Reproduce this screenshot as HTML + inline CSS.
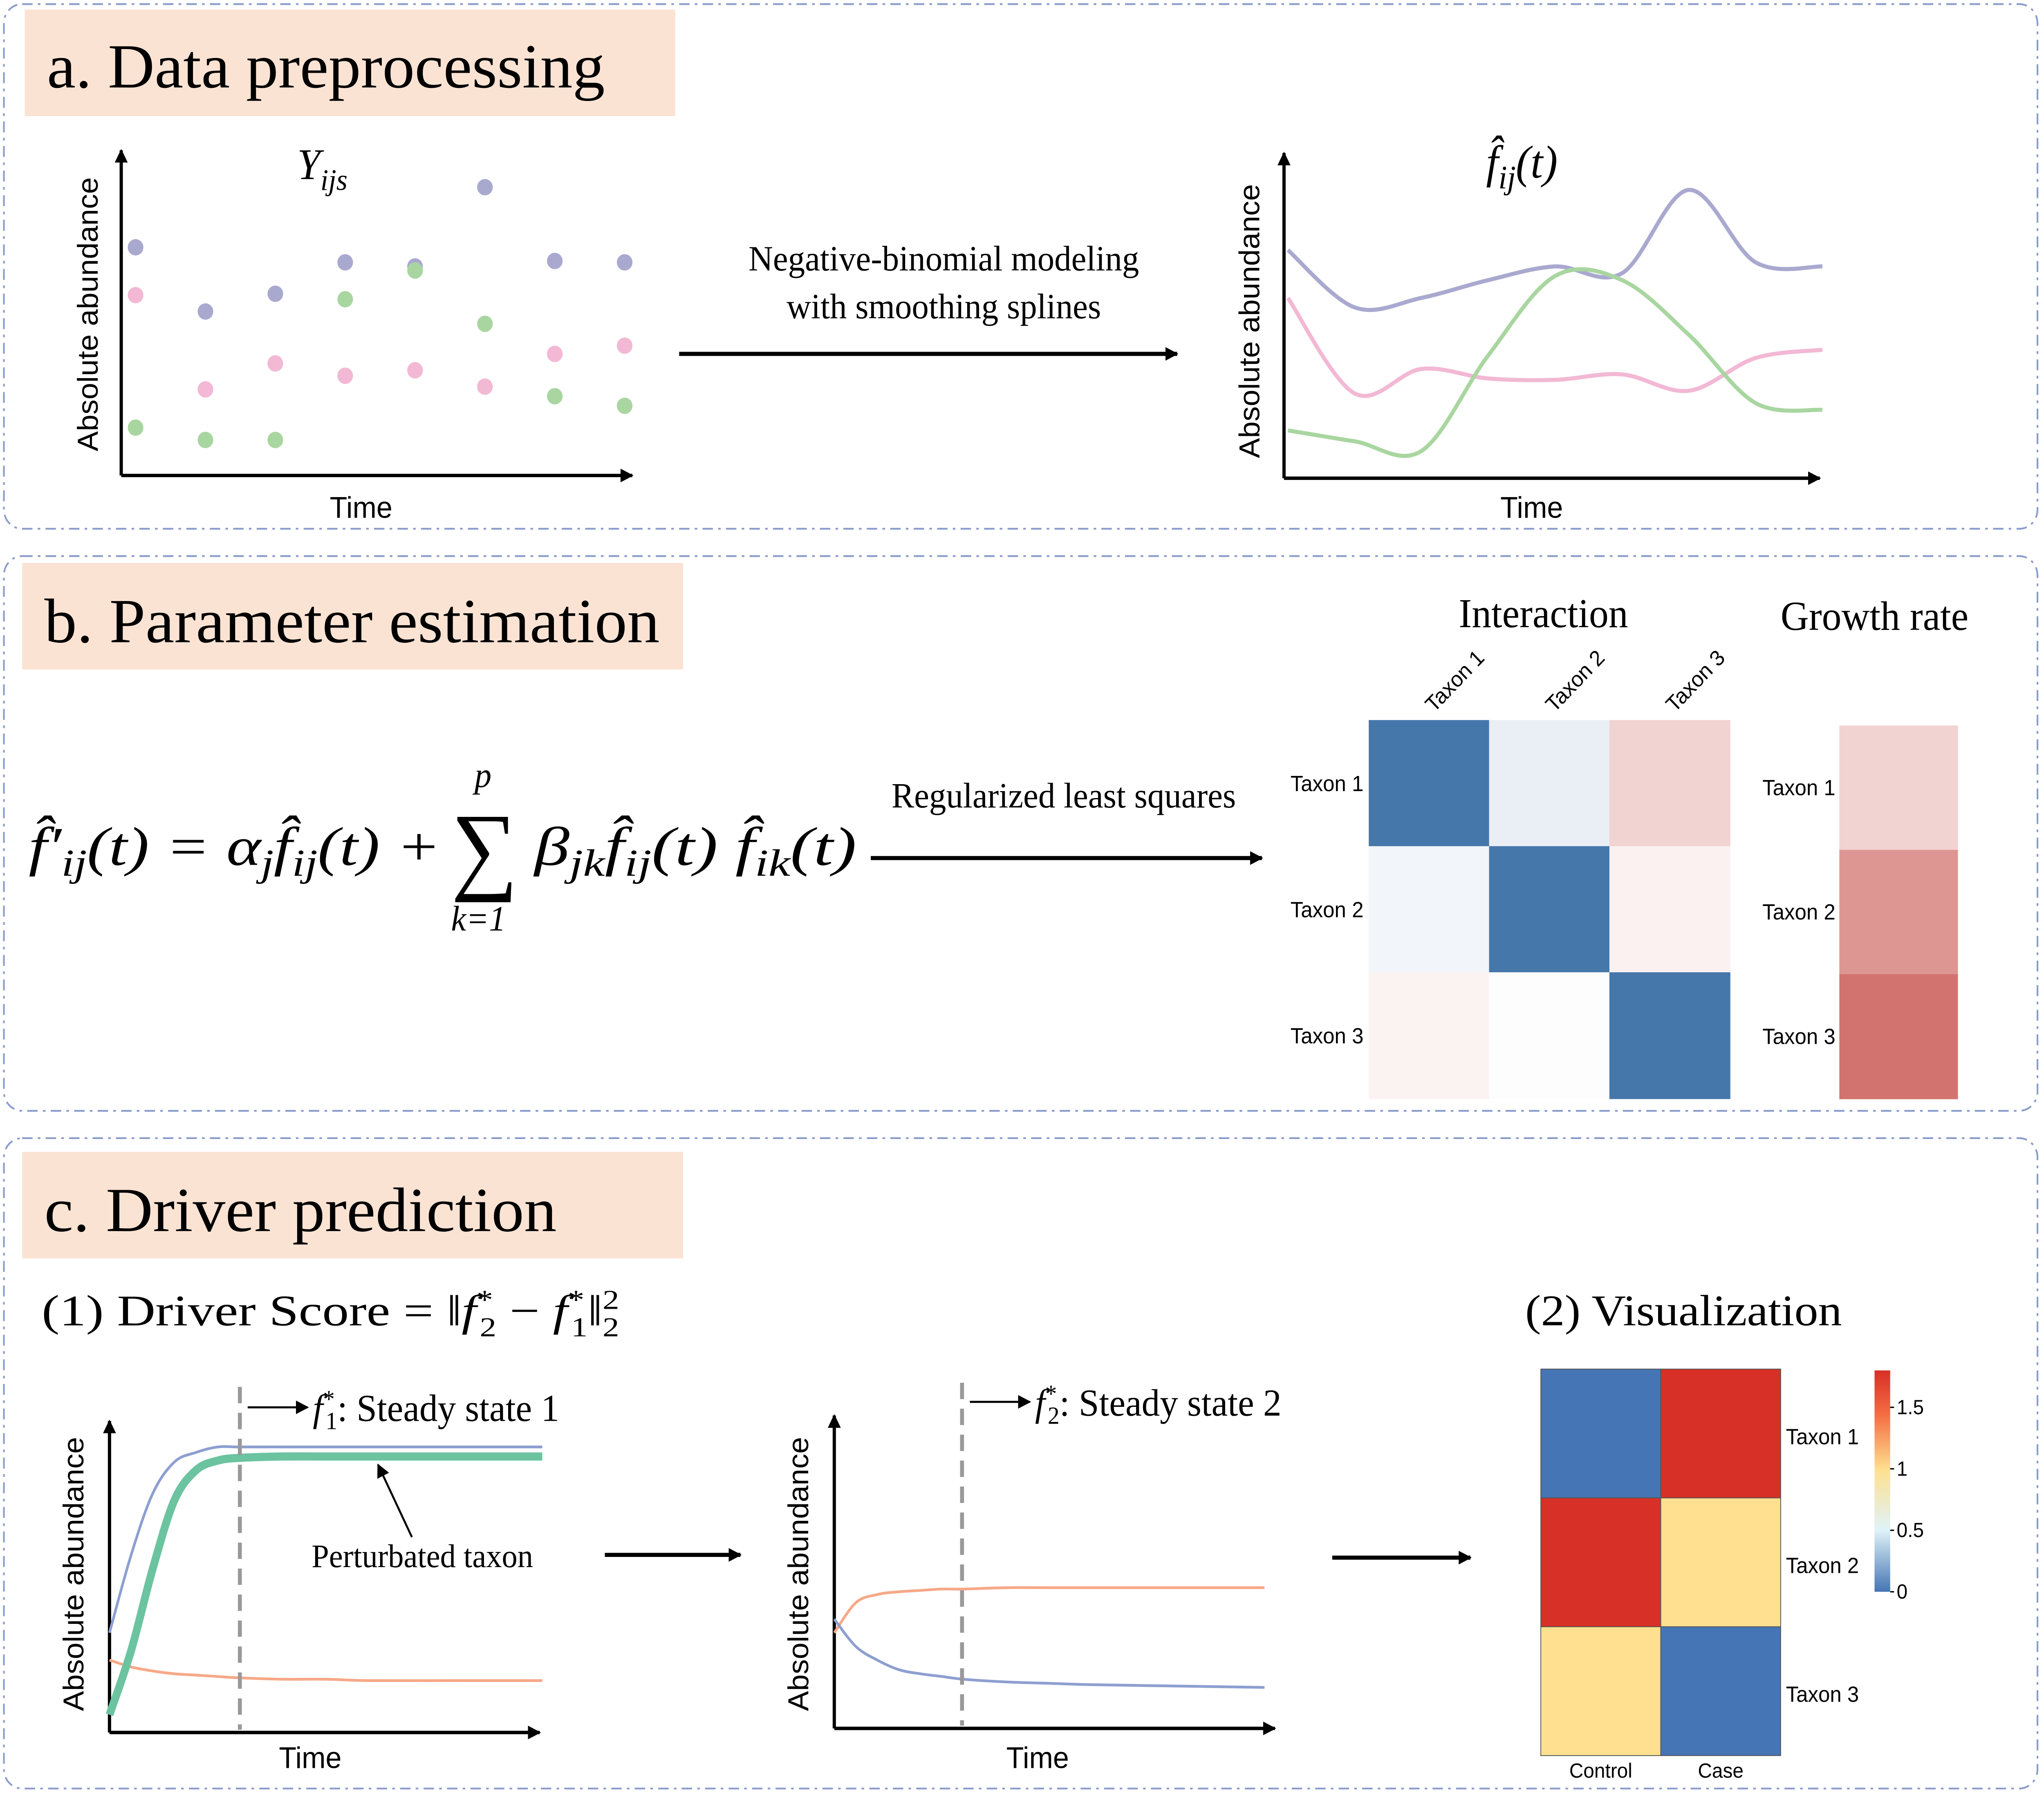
<!DOCTYPE html>
<html><head><meta charset="utf-8">
<style>
html,body{margin:0;padding:0;background:#fff;width:100%;height:100%;overflow:hidden;}
svg{display:block;}
.serif{font-family:"Liberation Serif",serif;}
.sans{font-family:"Liberation Sans",sans-serif;}
</style></head>
<body>
<svg id="fig" width="100%" height="100%" viewBox="0 0 1568 1313" preserveAspectRatio="none" xmlns="http://www.w3.org/2000/svg">
<defs>
<marker id="ah" markerWidth="10" markerHeight="10" refX="9" refY="5" orient="auto" markerUnits="userSpaceOnUse"><path d="M0,0 L10,5 L0,10 z" fill="#000"/></marker>
<linearGradient id="cb" x1="0" y1="1" x2="0" y2="0">
<stop offset="0" stop-color="#4575b4"/><stop offset="0.28" stop-color="#e0f3f8"/><stop offset="0.55" stop-color="#fee090"/><stop offset="0.8" stop-color="#f46d43"/><stop offset="1" stop-color="#d73027"/>
</linearGradient>
</defs>
<rect x="3" y="3" width="1560" height="384" rx="14" fill="none" stroke="#8a9ccc" stroke-width="1.3" stroke-dasharray="8,4,2,4"/>
<rect x="3" y="407" width="1560" height="406" rx="14" fill="none" stroke="#8a9ccc" stroke-width="1.3" stroke-dasharray="8,4,2,4"/>
<rect x="3" y="833" width="1560" height="476" rx="14" fill="none" stroke="#8a9ccc" stroke-width="1.3" stroke-dasharray="8,4,2,4"/>

<rect x="19" y="7" width="499" height="78" fill="#fbe3d3"/>
<text x="36" y="64" class="serif" font-size="46" textLength="428" lengthAdjust="spacingAndGlyphs">a. Data preprocessing</text>
<rect x="17" y="412" width="507" height="78" fill="#fbe3d3"/>
<text x="34" y="470" class="serif" font-size="46" textLength="472" lengthAdjust="spacingAndGlyphs">b. Parameter estimation</text>
<rect x="17" y="843" width="507" height="78" fill="#fbe3d3"/>
<text x="34" y="901" class="serif" font-size="46" textLength="393" lengthAdjust="spacingAndGlyphs">c. Driver prediction</text>

<g stroke="#000" stroke-width="2.5" fill="none">
<line x1="93" y1="348" x2="93" y2="110" marker-end="url(#ah)"/>
<line x1="93" y1="348" x2="485" y2="348" marker-end="url(#ah)"/>
</g>
<text x="277" y="379" class="sans" font-size="22" text-anchor="middle">Time</text>
<text transform="translate(75,230) rotate(-90)" class="sans" font-size="22" text-anchor="middle">Absolute abundance</text>
<text x="228" y="131" class="serif" font-size="32" font-style="italic">Y<tspan font-size="22" dy="8">ijs</tspan></text>
<g id="scatter"></g>

<text x="724" y="198" class="serif" font-size="26" text-anchor="middle">Negative-binomial modeling</text>
<text x="724" y="233" class="serif" font-size="26" text-anchor="middle">with smoothing splines</text>
<line x1="521" y1="259" x2="903" y2="259" stroke="#000" stroke-width="3" marker-end="url(#ah)"/>

<g stroke="#000" stroke-width="2.5" fill="none">
<line x1="985" y1="350" x2="985" y2="112" marker-end="url(#ah)"/>
<line x1="985" y1="350" x2="1396" y2="350" marker-end="url(#ah)"/>
</g>
<text x="1175" y="379" class="sans" font-size="22" text-anchor="middle">Time</text>
<text transform="translate(966,235) rotate(-90)" class="sans" font-size="22" text-anchor="middle">Absolute abundance</text>
<text x="1140" y="130" class="serif" font-size="34" font-style="italic">f̂<tspan font-size="24" dy="8">ij</tspan><tspan dy="-8">(t)</tspan></text>
<g id="splines"></g>

<text x="22" y="633" class="serif" font-size="40" font-style="italic" textLength="316" lengthAdjust="spacingAndGlyphs">f̂′<tspan font-size="28" dy="8">ij</tspan><tspan dy="-8">(t) = α</tspan><tspan font-size="28" dy="8">j</tspan><tspan dy="-8">f̂</tspan><tspan font-size="28" dy="8">ij</tspan><tspan dy="-8">(t) +</tspan></text>
<text x="346" y="645" class="serif" font-size="72">∑</text>
<text x="364" y="576" class="serif" font-size="26" font-style="italic">p</text>
<text x="346" y="681" class="serif" font-size="26" font-style="italic">k=1</text>
<text x="410" y="633" class="serif" font-size="40" font-style="italic" textLength="247" lengthAdjust="spacingAndGlyphs">β<tspan font-size="28" dy="8">jk</tspan><tspan dy="-8">f̂</tspan><tspan font-size="28" dy="8">ij</tspan><tspan dy="-8">(t) f̂</tspan><tspan font-size="28" dy="8">ik</tspan><tspan dy="-8">(t)</tspan></text>
<text x="816" y="591" class="serif" font-size="26" text-anchor="middle">Regularized least squares</text>
<line x1="668" y1="628" x2="968" y2="628" stroke="#000" stroke-width="3" marker-end="url(#ah)"/>

<text x="1184" y="459" class="serif" font-size="30" text-anchor="middle">Interaction</text>
<text x="1438" y="461" class="serif" font-size="30" text-anchor="middle">Growth rate</text>
<g id="inter"></g>
<g id="growth"></g>

<text x="32" y="970" class="serif" font-size="32" textLength="443" lengthAdjust="spacingAndGlyphs">(1) Driver Score = ‖<tspan font-style="italic">f</tspan><tspan font-size="20" dy="-12">*</tspan><tspan font-size="20" dx="-8" dy="20">2</tspan><tspan dy="-8"> − </tspan><tspan font-style="italic">f</tspan><tspan font-size="20" dy="-12">*</tspan><tspan font-size="20" dx="-8" dy="20">1</tspan><tspan dy="-8">‖</tspan><tspan font-size="20" dy="-12">2</tspan><tspan font-size="20" dx="-10" dy="20">2</tspan></text>
<text x="1170" y="970" class="serif" font-size="32" textLength="243" lengthAdjust="spacingAndGlyphs">(2)  Visualization</text>

<g stroke="#000" stroke-width="2.5" fill="none">
<line x1="84" y1="1268" x2="84" y2="1040" marker-end="url(#ah)"/>
<line x1="84" y1="1268" x2="414" y2="1268" marker-end="url(#ah)"/>
</g>
<text x="238" y="1294" class="sans" font-size="22" text-anchor="middle">Time</text>
<text transform="translate(64,1152) rotate(-90)" class="sans" font-size="22" text-anchor="middle">Absolute abundance</text>
<g id="c1"></g>
<line x1="184" y1="1015" x2="184" y2="1266" stroke="#999" stroke-width="3" stroke-dasharray="12,7"/>
<line x1="190" y1="1030" x2="236" y2="1030" stroke="#000" stroke-width="1.5" marker-end="url(#ah)"/>
<text x="240" y="1040" class="serif" font-size="28"><tspan font-style="italic">f</tspan><tspan font-size="18" dy="-10">*</tspan><tspan font-size="18" dx="-7" dy="16">1</tspan><tspan dy="-6">: Steady state 1</tspan></text>
<line x1="316" y1="1125" x2="290" y2="1072" stroke="#000" stroke-width="1.5" marker-end="url(#ah)"/>
<text x="324" y="1147" class="serif" font-size="24" text-anchor="middle">Perturbated taxon</text>
<line x1="464" y1="1138" x2="568" y2="1138" stroke="#000" stroke-width="3" marker-end="url(#ah)"/>

<g stroke="#000" stroke-width="2.5" fill="none">
<line x1="640" y1="1265" x2="640" y2="1036" marker-end="url(#ah)"/>
<line x1="640" y1="1265" x2="978" y2="1265" marker-end="url(#ah)"/>
</g>
<text x="796" y="1294" class="sans" font-size="22" text-anchor="middle">Time</text>
<text transform="translate(620,1152) rotate(-90)" class="sans" font-size="22" text-anchor="middle">Absolute abundance</text>
<g id="c2"></g>
<line x1="738" y1="1012" x2="738" y2="1263" stroke="#999" stroke-width="3" stroke-dasharray="12,7"/>
<line x1="744" y1="1026" x2="790" y2="1026" stroke="#000" stroke-width="1.5" marker-end="url(#ah)"/>
<text x="794" y="1036" class="serif" font-size="28"><tspan font-style="italic">f</tspan><tspan font-size="18" dy="-10">*</tspan><tspan font-size="18" dx="-7" dy="16">2</tspan><tspan dy="-6">: Steady state 2</tspan></text>
<line x1="1022" y1="1140" x2="1128" y2="1140" stroke="#000" stroke-width="3" marker-end="url(#ah)"/>

<g id="driver"></g>
<rect x="1438" y="1003" width="12" height="162" fill="url(#cb)"/>
<g id="cbt"></g>
</svg>
<script>
const NS='http://www.w3.org/2000/svg';
function mk(tag,attrs,parent,text){const e=document.createElementNS(NS,tag);for(const k in attrs)e.setAttribute(k,attrs[k]);if(text!==undefined)e.textContent=text;parent.appendChild(e);return e;}
const timePoints=[1,2,3,4,5,6,7,8];
const purpleObs=[167,120,133,156,153,211,157,156];
const pinkObs=[132,63,82,73,77,65,89,95];
const greenObs=[35,26,26,129,150,111,58,51];
const xS=t=>104+(t-1)*53.6, yS=v=>348-v;
const sc=document.getElementById('scatter');
[[purpleObs,'#a9a9d0','purple'],[pinkObs,'#f2b8d4','pink'],[greenObs,'#a9d6a0','green']].forEach(([arr,col,nm])=>{
 arr.forEach((v,i)=>{const c=mk('circle',{cx:xS(timePoints[i]),cy:yS(v),r:6,fill:col},sc);
 
 });
});
const splineT=[0,1,2,3,4,5,6,7,8];
const purpleFit=[167,125,132,145,155,150,211,158,155];
const pinkFit=[132,62,80,73,72,76,64,88,94];
const greenFit=[35,27,20,90,148,145,105,55,50];
const sx=t=>988+t*51.25, sy=v=>350-v;
function cat(pts){let d='M'+pts[0][0]+','+pts[0][1];for(let i=0;i<pts.length-1;i++){const p0=pts[i-1]||pts[i],p1=pts[i],p2=pts[i+1],p3=pts[i+2]||p2;
 d+=' C'+(p1[0]+(p2[0]-p0[0])/6)+','+(p1[1]+(p2[1]-p0[1])/6)+' '+(p2[0]-(p3[0]-p1[0])/6)+','+(p2[1]-(p3[1]-p1[1])/6)+' '+p2[0]+','+p2[1];}return d;}
const sp=document.getElementById('splines');
[[purpleFit,'#a9a9d0','purple'],[pinkFit,'#f2b8d4','pink'],[greenFit,'#a9d6a0','green']].forEach(([arr,col,nm])=>{
 const p=mk('path',{d:cat(arr.map((v,i)=>[sx(splineT[i]),sy(v)])),fill:'none',stroke:col,'stroke-width':3},sp);
 
 
});
const taxa=['Taxon 1','Taxon 2','Taxon 3'];
const interVals=[[-1,-0.12,0.25],[-0.07,-1,0.08],[0.07,0.01,-1]];
const growthVals=[0.25,0.6,0.8];
function divCol(v){
 if(v<0){const a=-v;const c=[255+(69-255)*a,255+(119-255)*a,255+(170-255)*a];return 'rgb('+c.map(Math.round)+')';}
 const a=v;const c=[255+(200-255)*a,255+(80-255)*a,255+(75-255)*a];return 'rgb('+c.map(Math.round)+')';}
const ih=document.getElementById('inter');const cw=92.3,ch=92.3,ix=1050,iy=527;
interVals.forEach((row,r)=>row.forEach((v,c)=>{const e=mk('rect',{x:ix+c*cw,y:iy+r*ch,width:cw+0.5,height:ch+0.5,fill:divCol(v)},ih);
 
 }));
taxa.forEach((t,i)=>{const a=mk('text',{x:1046,y:iy+i*ch+52,'text-anchor':'end','font-size':16,'font-family':'Liberation Sans, sans-serif'},ih,t);
 
 
 const b=mk('text',{transform:'translate('+(ix+i*cw+50)+',522) rotate(-45)','font-size':16,'font-family':'Liberation Sans, sans-serif'},ih,t);
 
 });
const gh=document.getElementById('growth');const gy=531,gch=91;
growthVals.forEach((v,i)=>{const e=mk('rect',{x:1411,y:gy+i*gch,width:91,height:gch+0.5,fill:divCol(v)},gh);
 
 
 const t=mk('text',{x:1408,y:gy+i*gch+51,'text-anchor':'end','font-size':16,'font-family':'Liberation Sans, sans-serif'},gh,taxa[i]);
 
 });
const tGrid=[0,0.05,0.1,0.15,0.2,0.25,0.3,0.4,0.5,0.6,0.8,1];
const c1Purple=[73,130,175,198,205,209,209,209,209,209,209,209];
const c1Green=[13,60,120,170,192,199,201,202,202,202,202,202];
const c1Orange=[53,48,45,43,42,41,40,39,39,38,38,38];
const c2Orange=[70,92,98,100,101,102,102,103,103,103,103,103];
const c2Purple=[80,60,50,43,40,38,36,34,33,32,31,30];
function drawSet(gid,x0,w,y0,sets){const g=document.getElementById(gid);
 sets.forEach(([arr,col,sw,nm])=>{const p=mk('path',{d:cat(arr.map((v,i)=>[x0+tGrid[i]*w,y0-v])),fill:'none',stroke:col,'stroke-width':sw},g);
 
 });}
drawSet('c1',84,332,1268,[[c1Purple,'#8d9fd0',2,'c1-purple'],[c1Orange,'#f6a887',2,'c1-orange'],[c1Green,'#6cc3a0',6,'c1-green-perturbed']]);
drawSet('c2',640,330,1265,[[c2Orange,'#f6a887',2,'c2-orange'],[c2Purple,'#8d9fd0',2,'c2-purple']]);
const groups=['Control','Case'];
const driverVals=[[0,1.8],[1.8,1.05],[1.05,0]];
const cbTicks=[0,0.5,1,1.5];
function seqCol(v){return v<0.5?'#4575b4':(v<1.5?'#fee090':'#d73027');}
const dh=document.getElementById('driver');const dx=1182,dy=1002,dw=92,dhh=94.3;
driverVals.forEach((row,r)=>row.forEach((v,c)=>{const e=mk('rect',{x:dx+c*dw,y:dy+r*dhh,width:dw,height:dhh,fill:seqCol(v),stroke:'#555','stroke-width':0.6},dh);
 
 }));
taxa.forEach((t,i)=>{const e=mk('text',{x:1370,y:dy+i*dhh+55,'font-size':16,'font-family':'Liberation Sans, sans-serif'},dh,t);
 
 });
groups.forEach((g,i)=>{const e=mk('text',{x:dx+i*dw+46,y:1301,'text-anchor':'middle','font-size':15,'font-family':'Liberation Sans, sans-serif'},dh,g);
 
 });
const cbt=document.getElementById('cbt');
cbTicks.forEach(v=>{const y=1165-v/1.8*162;
 const l=mk('line',{x1:1450,y1:y,x2:1453,y2:y,stroke:'#000','stroke-width':1},cbt);
 
 
 const t=mk('text',{x:1455,y:y+5,'font-size':15,'font-family':'Liberation Sans, sans-serif'},cbt,String(v));
 
 });
</script>
</body></html>
